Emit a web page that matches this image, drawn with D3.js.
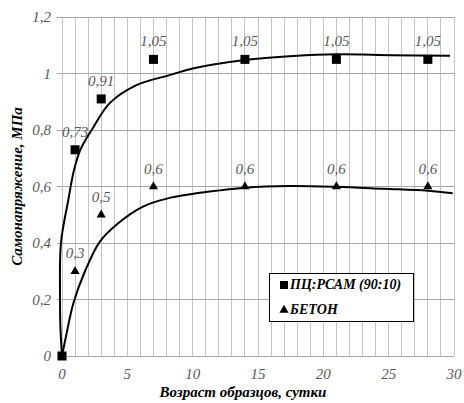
<!DOCTYPE html>
<html>
<head>
<meta charset="utf-8">
<script src="https://cdn.jsdelivr.net/npm/d3@7"></script>
<style>
  html, body { margin: 0; padding: 0; background: #fff; }
  svg { display: block; }
</style>
</head>
<body>
<div id="chart"></div>
<script>
// Возраст образцов, сутки
const days = [0, 1, 3, 7, 14, 21, 28];
// ПЦ:РСАМ (90:10)
const pcValues = [0, 0.73, 0.91, 1.05, 1.05, 1.05, 1.05];
// БЕТОН
const betonValues = [0, 0.3, 0.5, 0.6, 0.6, 0.6, 0.6];

// линии тренда [сутки, МПа]
const pcTrend = [[0, 0], [-0.12, 0.1], [-0.15, 0.2], [-0.08, 0.4], [0.48, 0.552], [0.92, 0.658],
  [1.4, 0.73], [2.27, 0.8], [3.67, 0.896], [5.7, 0.959], [8.3, 0.995], [10, 1.018], [14, 1.048],
  [17.7, 1.062], [21, 1.068], [25.3, 1.065], [29.7, 1.063]];
const betonTrend = [[0, 0], [0.3, 0.068], [0.87, 0.187], [1.76, 0.3], [2.9, 0.405], [4.3, 0.47],
  [6.2, 0.529], [8.1, 0.558], [11.3, 0.582], [14, 0.596], [17.4, 0.602], [21, 0.599],
  [24.6, 0.592], [28, 0.585], [29.9, 0.576]];

const xTicks = [0, 5, 10, 15, 20, 25, 30];
const yTicks = [0, 0.2, 0.4, 0.6, 0.8, 1, 1.2];
const legendLabels = ['ПЦ:РСАМ (90:10)', 'БЕТОН'];

const width = 464, height = 403;
const serif = "'Liberation Serif', 'Times New Roman', serif";
const fmt = v => String(v).replace('.', ',');

const svg = d3.select('#chart').append('svg')
  .attr('width', width)
  .attr('height', height);

const x = d3.scaleLinear().domain([0, 30]).range([62, 454]);
const y = d3.scaleLinear().domain([0, 1.2]).range([356, 17]);

// сетка: вертикальные линии через 1 сутки
svg.append('g')
  .selectAll('line')
  .data(d3.range(0, 31))
  .enter().append('line')
  .attr('x1', d => x(d)).attr('x2', d => x(d))
  .attr('y1', y(1.2)).attr('y2', y(0))
  .attr('stroke', '#c4c4c4')
  .attr('stroke-width', 1)
  .attr('shape-rendering', 'crispEdges');

// горизонтальные линии
svg.append('g')
  .selectAll('line')
  .data(yTicks)
  .enter().append('line')
  .attr('x1', x(0) - 5).attr('x2', x(30))
  .attr('y1', d => y(d)).attr('y2', d => y(d))
  .attr('stroke', '#a6a6a6')
  .attr('stroke-width', 1)
  .attr('shape-rendering', 'crispEdges');

// подписи делений
svg.append('g')
  .selectAll('text')
  .data(yTicks)
  .enter().append('text')
  .attr('x', 51)
  .attr('y', d => y(d) + 5)
  .attr('text-anchor', 'end')
  .style('font-family', serif)
  .style('font-style', 'italic')
  .style('font-size', '15px')
  .attr('fill', '#595959')
  .text(fmt);

svg.append('g')
  .selectAll('text')
  .data(xTicks)
  .enter().append('text')
  .attr('x', d => x(d))
  .attr('y', 379)
  .attr('text-anchor', 'middle')
  .style('font-family', serif)
  .style('font-style', 'italic')
  .style('font-size', '15px')
  .attr('fill', '#595959')
  .text(fmt);

// названия осей
svg.append('text')
  .attr('x', 243)
  .attr('y', 397)
  .attr('text-anchor', 'middle')
  .style('font-family', serif)
  .style('font-style', 'italic')
  .style('font-weight', 'bold')
  .style('font-size', '15px')
  .text('Возраст образцов, сутки');

svg.append('text')
  .attr('transform', `translate(22,${(y(0) + y(1.2)) / 2}) rotate(-90)`)
  .attr('text-anchor', 'middle')
  .style('font-family', serif)
  .style('font-style', 'italic')
  .style('font-weight', 'bold')
  .style('font-size', '15px')
  .text('Самонапряжение, МПа');

// линии тренда
const line = d3.line()
  .x(d => x(d[0]))
  .y(d => y(d[1]))
  .curve(d3.curveCatmullRom.alpha(0.5));

[pcTrend, betonTrend].forEach(tr => {
  svg.append('path')
    .datum(tr)
    .attr('d', line)
    .attr('fill', 'none')
    .attr('stroke', '#000')
    .attr('stroke-width', 2);
});

// маркеры
const pcPts = days.map((d, i) => ({ x: d, v: pcValues[i] }));
const betonPts = days.map((d, i) => ({ x: d, v: betonValues[i] }));

const tri = d3.symbol().type(d3.symbolTriangle).size(36);

svg.append('g')
  .selectAll('path')
  .data(betonPts)
  .enter().append('path')
  .attr('d', tri)
  .attr('transform', d => `translate(${x(d.x)},${y(d.v)})`)
  .attr('fill', '#000');

svg.append('g')
  .selectAll('rect')
  .data(pcPts)
  .enter().append('rect')
  .attr('x', d => x(d.x) - 4.5)
  .attr('y', d => y(d.v) - 4.5)
  .attr('width', 9)
  .attr('height', 9)
  .attr('fill', '#000');

// подписи значений (без нулевой точки)
[pcPts, betonPts].forEach(pts => {
  svg.append('g')
    .selectAll('text')
    .data(pts.filter(d => d.x > 0))
    .enter().append('text')
    .attr('x', d => x(d.x))
    .attr('y', d => y(d.v) - 13)
    .attr('text-anchor', 'middle')
    .style('font-family', serif)
    .style('font-style', 'italic')
    .style('font-size', '15px')
    .attr('fill', '#595959')
    .text(d => fmt(d.v));
});

// легенда
const lg = svg.append('g');
lg.append('rect')
  .attr('x', 269.5).attr('y', 273.5)
  .attr('width', 144).attr('height', 48)
  .attr('fill', '#fff')
  .attr('stroke', '#000')
  .attr('stroke-width', 1);
lg.append('rect')
  .attr('x', 280).attr('y', 281)
  .attr('width', 8).attr('height', 8)
  .attr('fill', '#000');
lg.append('path')
  .attr('d', tri)
  .attr('transform', 'translate(284,310)')
  .attr('fill', '#000');
lg.selectAll('text')
  .data(legendLabels)
  .enter().append('text')
  .attr('x', 290)
  .attr('y', (d, i) => 289 + i * 25)
  .style('font-family', serif)
  .style('font-style', 'italic')
  .style('font-weight', 'bold')
  .style('font-size', '14px')
  .text(d => d);
</script>
</body>
</html>
